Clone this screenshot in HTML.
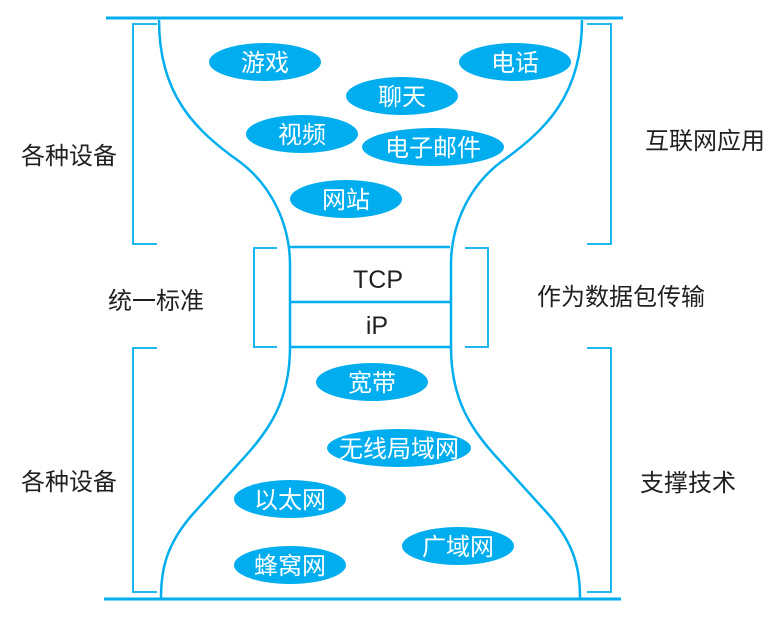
<!DOCTYPE html>
<html><head><meta charset="utf-8"><style>
html,body{margin:0;padding:0;background:#fff;}
svg{display:block;}
text{font-family:"Liberation Sans","Noto Sans CJK SC",sans-serif;}
</style></head><body>
<svg width="782" height="623" viewBox="0 0 782 623" xmlns="http://www.w3.org/2000/svg">
<g fill="none" stroke="#00aeef" stroke-width="2.5">
<line x1="106" y1="18" x2="623" y2="18" stroke-width="3"/>
<line x1="104" y1="599" x2="621" y2="599" stroke-width="3"/>
<path d="M159,20 C159,95 195,130 240,162 C272,186 290,225 290,265 L290,347 C290,400 270,430 240,462 L192,515 C166,545 161,570 161,598"/>
<path d="M582,20 C582,95 546,130 501,162 C469,186 451,225 451,265 L451,347 C451,400 471,430 501,462 L549,515 C575,545 580,570 580,598"/>
<line x1="290" y1="247" x2="450" y2="247"/>
<line x1="290" y1="302" x2="450" y2="302"/>
<line x1="290" y1="347" x2="450" y2="347"/>
</g>
<g fill="none" stroke="#00aeef" stroke-width="1.8">
<path d="M157,24 H133 V244 H157"/>
<path d="M587,24 H611 V244 H587"/>
<path d="M277,248 H254 V347 H277"/>
<path d="M465,248 H488 V347 H465"/>
<path d="M157,348 H133 V592 H157"/>
<path d="M587,348 H611 V592 H587"/>
</g>
<g fill="#00aeef">
<ellipse cx="265" cy="62" rx="56" ry="19"/>
<ellipse cx="515" cy="62" rx="56" ry="19"/>
<ellipse cx="402" cy="96" rx="56" ry="19"/>
<ellipse cx="302" cy="134" rx="56" ry="19"/>
<ellipse cx="433" cy="147" rx="71" ry="19"/>
<ellipse cx="346" cy="199" rx="56" ry="19"/>
<ellipse cx="372" cy="382" rx="56" ry="19"/>
<ellipse cx="399" cy="448" rx="72" ry="19"/>
<ellipse cx="290" cy="499" rx="56" ry="19"/>
<ellipse cx="458" cy="546" rx="56" ry="19"/>
<ellipse cx="290" cy="565" rx="56" ry="19"/>
</g>
<g fill="#fff" font-size="24" text-anchor="middle">
<text x="265" y="71">游戏</text>
<text x="515" y="71">电话</text>
<text x="402" y="105">聊天</text>
<text x="302" y="143">视频</text>
<text x="433" y="156">电子邮件</text>
<text x="346" y="208">网站</text>
<text x="372" y="391">宽带</text>
<text x="399" y="457">无线局域网</text>
<text x="290" y="508">以太网</text>
<text x="458" y="555">广域网</text>
<text x="290" y="574">蜂窝网</text>
</g>
<g fill="#231f20" font-size="24">
<text x="21" y="164">各种设备</text>
<text x="21" y="490">各种设备</text>
<text x="108" y="309">统一标准</text>
<text x="645" y="149">互联网应用</text>
<text x="537" y="305">作为数据包传输</text>
<text x="640" y="491">支撑技术</text>
<text x="378" y="288" font-size="25" text-anchor="middle">TCP</text>
<text x="377" y="334" font-size="25" text-anchor="middle">iP</text>
</g>
</svg>
</body></html>
